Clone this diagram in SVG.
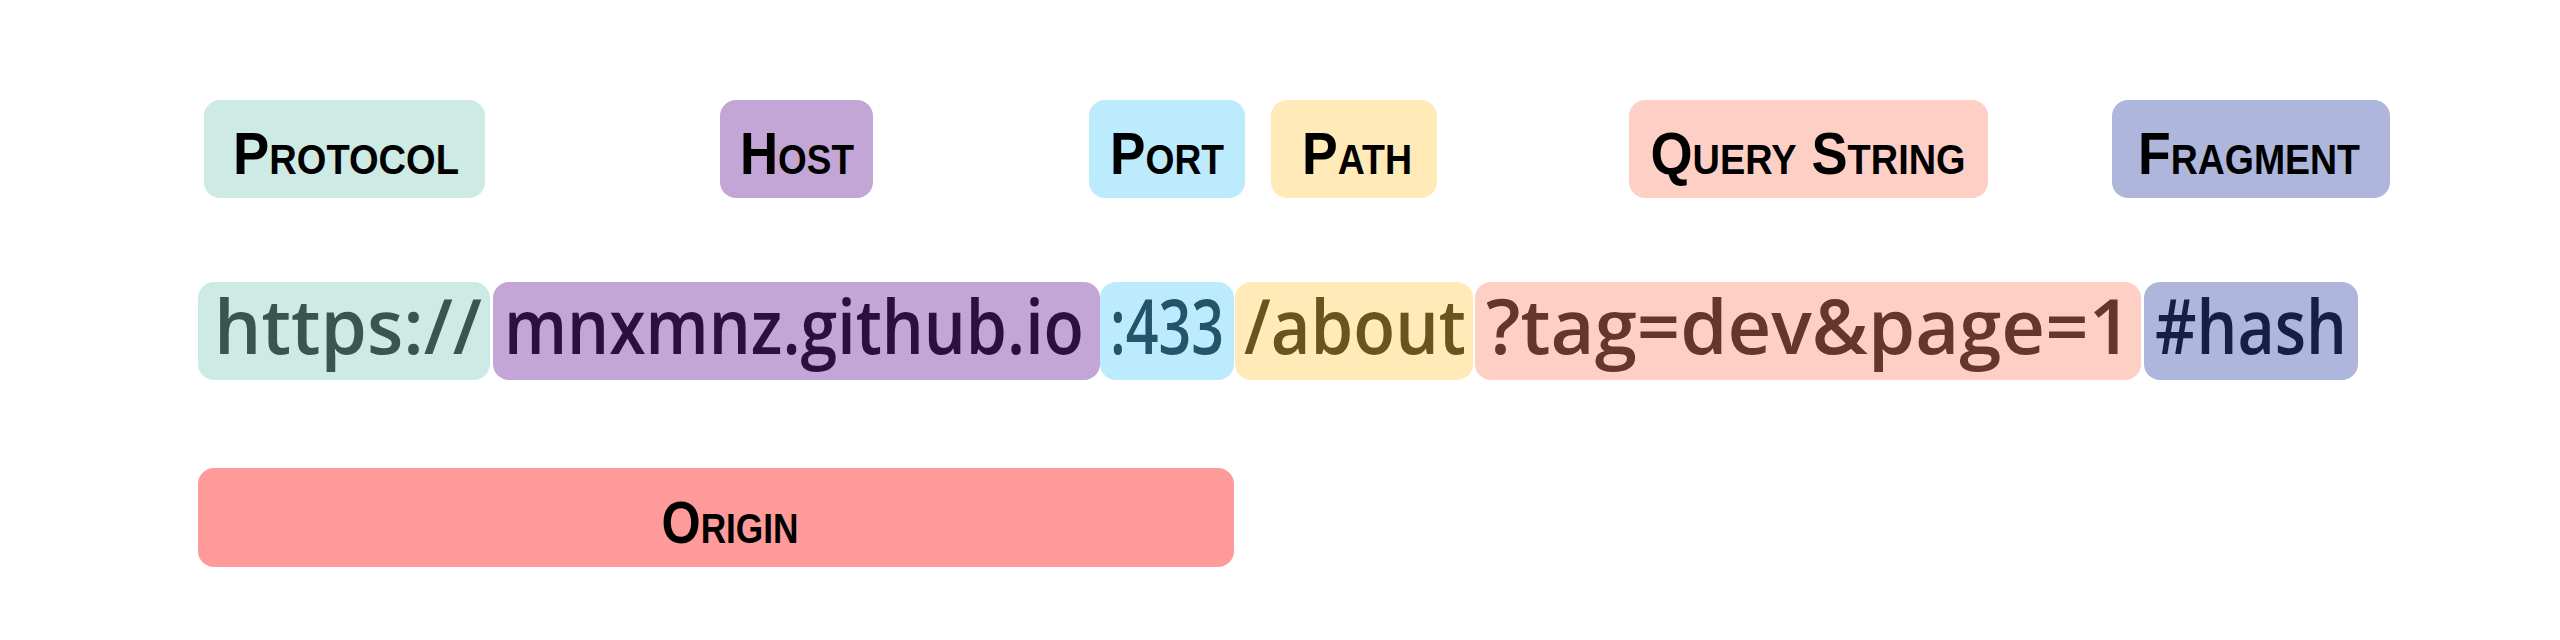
<svg xmlns="http://www.w3.org/2000/svg" width="2560" height="640" viewBox="0 0 2560 640">
<style>
.lbl{font-family:"Liberation Sans",Arial,sans-serif;font-size:60px;font-weight:bold;font-variant:small-caps;fill:#000;text-anchor:middle}
.url{font-family:"Open Sans","Liberation Sans",Arial,sans-serif;font-size:76px;font-weight:600;text-anchor:middle}
rect{rx:16px;ry:16px}
</style>
<rect width="2560" height="640" fill="#fff"/>
<g id="label-protocol"><rect x="204" y="100" width="281" height="98" fill="#CDEAE5"/><text class="lbl" x="346" y="174" textLength="226" lengthAdjust="spacingAndGlyphs">Protocol</text></g>
<g id="label-host"><rect x="720" y="100" width="153" height="98" fill="#C3A6D5"/><text class="lbl" x="797" y="174" textLength="114" lengthAdjust="spacingAndGlyphs">Host</text></g>
<g id="label-port"><rect x="1089" y="100" width="156" height="98" fill="#BCEBFE"/><text class="lbl" x="1167" y="174" textLength="114" lengthAdjust="spacingAndGlyphs">Port</text></g>
<g id="label-path"><rect x="1271" y="100" width="166" height="98" fill="#FFEAB8"/><text class="lbl" x="1357" y="174" textLength="110" lengthAdjust="spacingAndGlyphs">Path</text></g>
<g id="label-query"><rect x="1629" y="100" width="359" height="98" fill="#FECFC4"/><text class="lbl" x="1808" y="174" textLength="315" lengthAdjust="spacingAndGlyphs">Query String</text></g>
<g id="label-fragment"><rect x="2112" y="100" width="278" height="98" fill="#AEB6DC"/><text class="lbl" x="2249" y="174" textLength="222" lengthAdjust="spacingAndGlyphs">Fragment</text></g>

<g id="seg-protocol"><rect x="198" y="282" width="292" height="98" fill="#CDEAE5"/><text class="url" x="348" y="354" fill="#3A5550" textLength="268" lengthAdjust="spacingAndGlyphs">https://</text></g>
<g id="seg-host"><rect x="493" y="282" width="607" height="98" fill="#C3A6D5"/><text class="url" x="794" y="354" fill="#2D0E3E" textLength="580" lengthAdjust="spacingAndGlyphs">mnxmnz.github.io</text></g>
<g id="seg-port"><rect x="1100" y="282" width="134" height="98" fill="#BCEBFE"/><text class="url" x="1167" y="354" fill="#22546A" textLength="114" lengthAdjust="spacingAndGlyphs">:433</text></g>
<g id="seg-path"><rect x="1235" y="282" width="238" height="98" fill="#FFEAB8"/><text class="url" x="1355" y="354" fill="#6A531E" textLength="222" lengthAdjust="spacingAndGlyphs">/about</text></g>
<g id="seg-query"><rect x="1475" y="282" width="666" height="98" fill="#FECFC4"/><text class="url" x="1809" y="354" fill="#66352C" textLength="646" lengthAdjust="spacingAndGlyphs">?tag=dev&amp;page=1</text></g>
<g id="seg-fragment"><rect x="2144" y="282" width="214" height="98" fill="#AEB6DC"/><text class="url" x="2251" y="354" fill="#141F45" textLength="192" lengthAdjust="spacingAndGlyphs">#hash</text></g>

<g id="origin"><rect x="198" y="468" width="1036" height="99" fill="#FE9A9A"/><text class="lbl" x="730" y="543" textLength="137" lengthAdjust="spacingAndGlyphs">Origin</text></g>
<g id="connectors"></g>
</svg>
